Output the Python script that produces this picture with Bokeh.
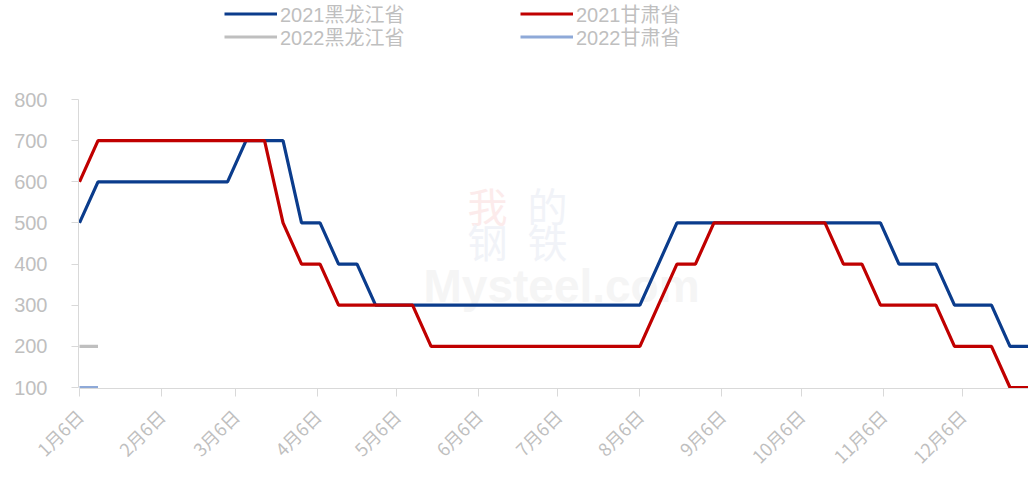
import math
import pandas as pd
from bokeh.plotting import figure
from bokeh.models import Range1d, FixedTicker, Legend, LegendItem, Label
from bokeh.embed import file_html
from bokeh.resources import INLINE

# ---------------- data ----------------
dates_2021 = [
    "2021-01-06", "2021-01-13", "2021-01-20", "2021-01-27", "2021-02-03", "2021-02-10",
    "2021-02-17", "2021-02-24", "2021-03-03", "2021-03-10", "2021-03-17", "2021-03-24",
    "2021-03-31", "2021-04-07", "2021-04-14", "2021-04-21", "2021-04-28", "2021-05-05",
    "2021-05-12", "2021-05-19", "2021-05-28", "2021-06-04", "2021-06-11", "2021-06-18",
    "2021-06-25", "2021-07-02", "2021-07-09", "2021-07-16", "2021-07-23", "2021-07-30",
    "2021-08-06", "2021-08-13", "2021-08-20", "2021-08-27", "2021-09-03", "2021-09-10",
    "2021-09-17", "2021-09-24", "2021-10-01", "2021-10-08", "2021-10-15", "2021-10-22",
    "2021-10-29", "2021-11-05", "2021-11-12", "2021-11-19", "2021-11-26", "2021-12-03",
    "2021-12-10", "2021-12-17", "2021-12-24", "2021-12-31",
]
hlj_2021 = [500, 600, 600, 600, 600, 600, 600, 600, 600, 700, 700, 700,
            500, 500, 400, 400, 300, 300, 300, 300, 300, 300, 300, 300,
            300, 300, 300, 300, 300, 300, 300, 400, 500, 500, 500, 500,
            500, 500, 500, 500, 500, 500, 500, 500, 400, 400, 400, 300,
            300, 300, 200, 200]
gs_2021 = [600, 700, 700, 700, 700, 700, 700, 700, 700, 700, 700, 500,
           400, 400, 300, 300, 300, 300, 300, 200, 200, 200, 200, 200,
           200, 200, 200, 200, 200, 200, 200, 300, 400, 400, 500, 500,
           500, 500, 500, 500, 500, 400, 400, 300, 300, 300, 300, 200,
           200, 200, 100, 100]

# 2022 series, placed on the same calendar (month/day) axis
dates_2022 = ["2021-01-06", "2021-01-13"]
hlj_2022 = [200, 200]
gs_2022 = [100, 100]

tick_dates = ["2021-01-06", "2021-02-06", "2021-03-06", "2021-04-06", "2021-05-06",
              "2021-06-06", "2021-07-06", "2021-08-06", "2021-09-06", "2021-10-06",
              "2021-11-06", "2021-12-06"]
tick_labels = ["1月6日", "2月6日", "3月6日", "4月6日", "5月6日", "6月6日",
               "7月6日", "8月6日", "9月6日", "10月6日", "11月6日", "12月6日"]
y_ticks = [100, 200, 300, 400, 500, 600, 700, 800]

series_names = ["2021黑龙江省", "2022黑龙江省", "2021甘肃省", "2022甘肃省"]

# ---------------- helpers ----------------
origin = pd.Timestamp("2021-01-06")


def to_days(ds):
    return [int((pd.Timestamp(d) - origin).days) for d in ds]


x21 = to_days(dates_2021)
x22 = to_days(dates_2022)
xt = to_days(tick_dates)

BLUE = "#0B3C8C"
RED = "#C00000"
GRAY = "#BFBFBF"
LBLUE = "#8EA9D8"
AXIS = "#D9D9D9"
TXT = "#BFBFBF"
LEG_FONT = "Liberation Sans, Noto Sans CJK SC"

# frame spans from the very top of the page so the legend can live inside it
FRAME_H = 388
SCALE = 288 / 700.0           # px per unit
y_lo = 100 - 1 / SCALE
y_hi = y_lo + FRAME_H / SCALE

p = figure(width=1028, height=483, output_backend="svg", toolbar_location=None,
           x_range=Range1d(-0.378, max(x21)), y_range=Range1d(y_lo, y_hi),
           min_border_left=78, min_border_right=0, min_border_top=0,
           min_border_bottom=483 - FRAME_H)
p.outline_line_color = None
p.xgrid.visible = False
p.ygrid.visible = False
p.background_fill_color = "white"
p.border_fill_color = "white"

# watermark
wm_font = "Noto Sans CJK SC"
p.add_layout(Label(x=345, y=103, x_units="screen", y_units="screen", text="Mysteel.com",
                   text_font="Liberation Sans", text_font_style="bold",
                   text_font_size="46px", text_color="#F5F5F5",
                   text_baseline="alphabetic", level="underlay"))
for t, xx, yy, c in [("我", 409, 184, "#FCEBEB"), ("的", 469, 184, "#F1F3F8"),
                     ("钢", 409, 148, "#F1F3F8"), ("铁", 469, 148, "#F1F3F8")]:
    p.add_layout(Label(x=xx, y=yy, x_units="screen", y_units="screen", text=t,
                       text_font=wm_font, text_font_size="40px", text_color=c,
                       text_align="center", text_baseline="middle", level="underlay"))

LW = 3.2
r_hlj21 = p.line(x21, hlj_2021, line_color=BLUE, line_width=LW)
r_gs21 = p.line(x21, gs_2021, line_color=RED, line_width=LW)
r_hlj22 = p.line(x22, hlj_2022, line_color=GRAY, line_width=LW)
r_gs22 = p.line(x22, gs_2022, line_color=LBLUE, line_width=LW)

# axes
ya = p.yaxis[0]
ya.ticker = FixedTicker(ticks=y_ticks)
ya.bounds = (min(y_ticks), max(y_ticks))
ya.axis_line_color = AXIS
ya.major_tick_line_color = AXIS
ya.major_tick_out = 7
ya.major_tick_in = 0
ya.minor_tick_line_color = None
ya.major_label_text_font = "Liberation Sans"
ya.major_label_text_font_size = "20px"
ya.major_label_text_color = TXT
ya.major_label_standoff = 24

xa = p.xaxis[0]
xa.ticker = FixedTicker(ticks=xt)
xa.bounds = (0, max(x21))
xa.major_label_overrides = {v: lab for v, lab in zip(xt, tick_labels)}
xa.axis_line_color = AXIS
xa.major_tick_line_color = AXIS
xa.major_tick_out = 8
xa.major_tick_in = 0
xa.minor_tick_line_color = None
xa.major_label_orientation = math.pi / 4
xa.major_label_text_font = "Noto Sans CJK SC"
xa.major_label_text_font_size = "18px"
xa.major_label_text_color = TXT
xa.major_label_standoff = 16

ITEM_H = 23


def make_legend(label, rend, loc):
    return Legend(items=[LegendItem(label=label, renderers=[rend])], location=loc,
                  orientation="vertical", glyph_width=53, glyph_height=ITEM_H,
                  label_standoff=3, spacing=0, padding=0, margin=0,
                  border_line_color=None, background_fill_alpha=0,
                  label_text_font=LEG_FONT, label_text_font_size="20px",
                  label_text_color=TXT, label_height=ITEM_H)


ROW1_BOTTOM = FRAME_H - 16.5 - ITEM_H / 2
ROW2_BOTTOM = FRAME_H - 39.5 - ITEM_H / 2
p.add_layout(make_legend(series_names[0], r_hlj21, (146, ROW1_BOTTOM)))
p.add_layout(make_legend(series_names[1], r_hlj22, (146, ROW2_BOTTOM)))
p.add_layout(make_legend(series_names[2], r_gs21, (442, ROW1_BOTTOM)))
p.add_layout(make_legend(series_names[3], r_gs22, (442, ROW2_BOTTOM)))

open("out.html", "w").write(file_html(p, INLINE))
